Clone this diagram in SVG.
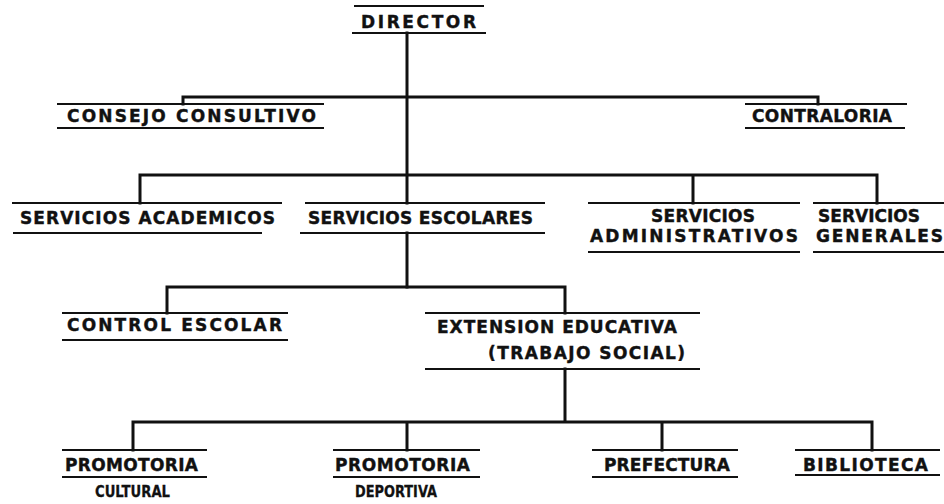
<svg xmlns="http://www.w3.org/2000/svg" width="944" height="504" viewBox="0 0 944 504">
<style>
.bg{fill:#ffffff}
.rule{stroke:#111;stroke-width:2;fill:none}
.conn{stroke:#111;stroke-width:3;fill:none;stroke-linecap:square}
.t{font-family:"DejaVu Sans","Liberation Sans",Arial,sans-serif;font-weight:bold;font-size:17px;fill:#111;stroke:#111;stroke-width:0.4}
.s{font-family:"DejaVu Sans","Liberation Sans",Arial,sans-serif;font-weight:bold;font-size:16px;fill:#111;stroke:#111;stroke-width:0.3}
</style>
<rect class="bg" x="0" y="0" width="944" height="504"/>
<g id="connectors">
<path class="conn" d="M407 33 V203 M407 233 V287"/>
<path class="conn" d="M183 104 V97 H818 V104"/>
<path class="conn" d="M140 203 V175 H877 V203 M693 175 V203"/>
<path class="conn" d="M167 313 V287 H565 V313"/>
<path class="conn" d="M565 369 V422 M133 450 V422 H872 V450 M407 422 V450 M662 422 V450"/>
</g>
<g id="director">
<path class="rule" d="M354 6 H484 M352 33 H486"/>
<text class="t" x="361" y="28" textLength="115" lengthAdjust="spacing">DIRECTOR</text>
</g>
<g id="consejo-consultivo">
<path class="rule" d="M57 104 H324 M57 128 H324"/>
<text class="t" x="67" y="122" textLength="249" lengthAdjust="spacing">CONSEJO  CONSULTIVO</text>
</g>
<g id="contraloria">
<path class="rule" d="M745 104 H907 M745 128 H905"/>
<text class="t" x="752" y="122" textLength="140" lengthAdjust="spacing">CONTRALORIA</text>
</g>
<g id="servicios-academicos">
<path class="rule" d="M12 203 H282 M13 233 H262"/>
<text class="t" x="20" y="224" textLength="255" lengthAdjust="spacing">SERVICIOS  ACADEMICOS</text>
</g>
<g id="servicios-escolares">
<path class="rule" d="M305 203 H545 M300 233 H545"/>
<text class="t" x="308" y="224" textLength="225" lengthAdjust="spacing">SERVICIOS ESCOLARES</text>
</g>
<g id="servicios-administrativos">
<path class="rule" d="M588 203 H800 M588 252 H800"/>
<text class="t" x="651" y="222" textLength="104" lengthAdjust="spacing">SERVICIOS</text>
<text class="t" x="590" y="242" textLength="208" lengthAdjust="spacing">ADMINISTRATIVOS</text>
</g>
<g id="servicios-generales">
<path class="rule" d="M813 203 H944 M813 252 H944"/>
<text class="t" x="818" y="222" textLength="102" lengthAdjust="spacing">SERVICIOS</text>
<text class="t" x="816" y="242" textLength="127" lengthAdjust="spacing">GENERALES</text>
</g>
<g id="control-escolar">
<path class="rule" d="M62 313 H288 M62 340 H288"/>
<text class="t" x="67" y="331" textLength="215" lengthAdjust="spacing">CONTROL ESCOLAR</text>
</g>
<g id="extension-educativa">
<path class="rule" d="M425 313 H700 M425 369 H700"/>
<text class="t" x="437" y="333" textLength="240" lengthAdjust="spacing">EXTENSION  EDUCATIVA</text>
<text class="t" x="488" y="359" textLength="197" lengthAdjust="spacing">(TRABAJO  SOCIAL)</text>
</g>
<g id="promotoria-cultural">
<path class="rule" d="M62 450 H207 M62 477 H207"/>
<text class="t" x="65" y="471" textLength="133" lengthAdjust="spacing">PROMOTORIA</text>
<text class="s" x="95" y="497" textLength="75" lengthAdjust="spacingAndGlyphs">CULTURAL</text>
</g>
<g id="promotoria-deportiva">
<path class="rule" d="M333 450 H480 M333 477 H480"/>
<text class="t" x="335" y="471" textLength="135" lengthAdjust="spacing">PROMOTORIA</text>
<text class="s" x="355" y="497" textLength="82" lengthAdjust="spacingAndGlyphs">DEPORTIVA</text>
</g>
<g id="prefectura">
<path class="rule" d="M592 450 H738 M592 477 H738"/>
<text class="t" x="604" y="471" textLength="126" lengthAdjust="spacing">PREFECTURA</text>
</g>
<g id="biblioteca">
<path class="rule" d="M795 450 H940 M795 475 H940"/>
<text class="t" x="803" y="471" textLength="125" lengthAdjust="spacing">BIBLIOTECA</text>
</g>
</svg>
